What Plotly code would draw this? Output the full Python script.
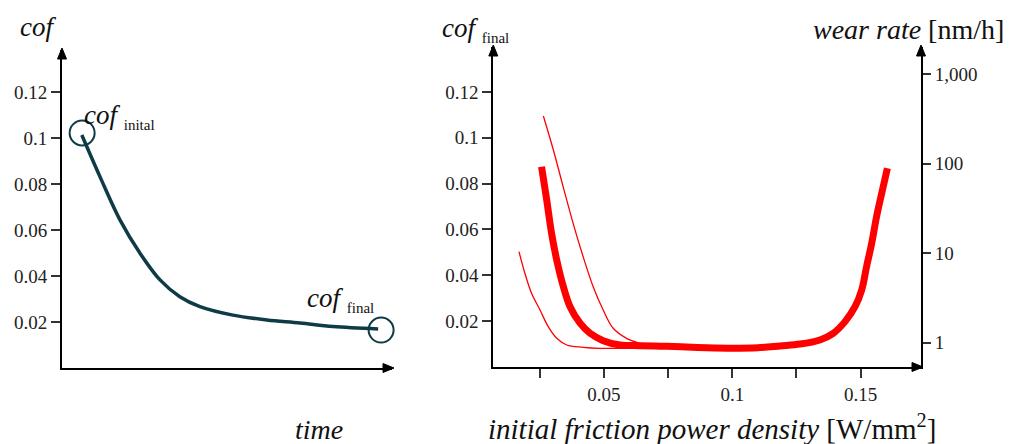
import plotly.graph_objects as go

# ---- left panel: cof over time ----
time_t = [0.06, 0.115, 0.176, 0.236, 0.297, 0.357, 0.418, 0.518, 0.621, 0.721, 0.821, 0.958]
cof_t = [0.1013, 0.0832, 0.0643, 0.05, 0.0383, 0.031, 0.0267, 0.023, 0.0209, 0.0196, 0.018, 0.017]
marked_time = [0.061, 0.967]
marked_cof = [0.1022, 0.0165]

# ---- right panel: cof_final and wear rate vs initial friction power density ----
pd_thick = [0.0257, 0.0277, 0.0296, 0.0316, 0.0342, 0.0368, 0.0407, 0.0446, 0.0497, 0.0562, 0.0640,
            0.0720, 0.0800, 0.0900, 0.1000, 0.1100, 0.1186, 0.1264, 0.1341, 0.1393, 0.1439, 0.1478,
            0.1504, 0.1523, 0.1543, 0.1562, 0.1582, 0.1604]
cof_final = [0.0874, 0.0729, 0.0583, 0.0467, 0.0350, 0.0263, 0.0191, 0.0147, 0.0115, 0.0096, 0.0093,
             0.0091, 0.0088, 0.0084, 0.0082, 0.0084, 0.0092, 0.0100, 0.0118, 0.0147, 0.0198, 0.0263,
             0.0336, 0.0438, 0.0540, 0.0656, 0.0758, 0.0867]

pd_wear_hi = [0.0264, 0.0303, 0.0341, 0.0380, 0.0419, 0.0458, 0.0497, 0.0536, 0.0588, 0.0640, 0.0679, 0.0760]
wear_hi = [340, 141.7, 55.2, 21.5, 9.13, 4.22, 2.32, 1.45, 1.12, 0.985, 0.918, 0.88]
pd_wear_lo = [0.0169, 0.0192, 0.0218, 0.0251, 0.0283, 0.0316, 0.0355, 0.0419, 0.0484, 0.0614, 0.0760]
wear_lo = [10.4, 5.96, 3.56, 2.32, 1.51, 1.12, 0.943, 0.889, 0.866, 0.866, 0.87]

x_ticks = [0.05, 0.1, 0.15]
x_ticktext = ["0.05", "0.1", "0.15"]
x_minor_ticks = [0.025, 0.075, 0.125]
cof_ticks = [0.02, 0.04, 0.06, 0.08, 0.1, 0.12]
cof_ticktext = ["0.02", "0.04", "0.06", "0.08", "0.1", "0.12"]
wear_ticks = [1, 10, 100, 1000]
wear_ticktext = ["1", "10", "100", "1,000"]

FONT = "Liberation Serif"
W, H = 1009, 444
TEAL = "#0f3b47"
RED = "#ff0000"

fig = go.Figure()

fig.add_trace(go.Scatter(x=time_t, y=cof_t, mode="lines", line=dict(color=TEAL, width=3.5, shape="spline"),
                         xaxis="x", yaxis="y", showlegend=False))
fig.add_trace(go.Scatter(x=marked_time, y=marked_cof, mode="markers",
                         marker=dict(symbol="circle-open", size=25, color=TEAL, line=dict(width=2, color=TEAL)),
                         xaxis="x", yaxis="y", showlegend=False, cliponaxis=False))

fig.add_trace(go.Scatter(x=pd_wear_hi, y=wear_hi, mode="lines", line=dict(color=RED, width=1.3, shape="spline"),
                         xaxis="x2", yaxis="y3", showlegend=False))
fig.add_trace(go.Scatter(x=pd_wear_lo, y=wear_lo, mode="lines", line=dict(color=RED, width=1.3, shape="spline"),
                         xaxis="x2", yaxis="y3", showlegend=False))
fig.add_trace(go.Scatter(x=pd_thick, y=cof_final, mode="lines", line=dict(color=RED, width=7, shape="spline"),
                         xaxis="x2", yaxis="y2", showlegend=False))

L_X0, L_X1, L_Y0, L_Y1 = 62, 392, 368, 50
R_X0, R_X1, R_Y0, R_Y1 = 493.3, 921, 367, 47

tickfont = dict(family=FONT, size=19, color="#222")
common = dict(showline=True, linecolor="black", linewidth=2, showgrid=False, zeroline=False, automargin=False)
tk = dict(ticks="outside", ticklen=9, tickwidth=1.5, tickcolor="#333", tickfont=tickfont)

fig.update_layout(
    width=W, height=H, margin=dict(l=0, r=0, t=0, b=0),
    paper_bgcolor="white", plot_bgcolor="white",
    font=dict(family=FONT, color="#111"),
    xaxis=dict(domain=[L_X0 / W, L_X1 / W], range=[0, 1], showticklabels=False, ticks="", **common),
    yaxis=dict(domain=[1 - L_Y0 / H, 1 - L_Y1 / H], range=[0, (L_Y0 - L_Y1) / 2300],
               tickvals=cof_ticks, ticktext=cof_ticktext, **tk, **common),
    xaxis2=dict(domain=[R_X0 / W, R_X1 / W], range=[0.0069, 0.1735], anchor="y2",
                tickvals=x_ticks, ticktext=x_ticktext,
                minor=dict(tickvals=x_minor_ticks, ticks="outside", ticklen=9, tickwidth=1.5, tickcolor="#333"),
                **tk, **common),
    yaxis2=dict(domain=[1 - R_Y0 / H, 1 - R_Y1 / H], range=[0, (R_Y0 - R_Y1) / 2292], anchor="x2",
                tickvals=cof_ticks, ticktext=cof_ticktext, **tk, **common),
    yaxis3=dict(domain=[1 - R_Y0 / H, 1 - R_Y1 / H], type="log", range=[-0.271, 3.301], anchor="x2",
                overlaying="y2", side="right", tickvals=wear_ticks, ticktext=wear_ticktext,
                ticks="outside", ticklen=8, tickwidth=1.5, tickcolor="#333", tickfont=tickfont, **common),
)

# axis arrowheads as filled triangles
def tri(tx, ty, direction):
    s, w = 11, 4.5
    if direction == "up":
        pts = [(tx, ty), (tx - w, ty + s), (tx + w, ty + s)]
    else:
        pts = [(tx, ty), (tx - s, ty - w), (tx - s, ty + w)]
    path = "M " + " L ".join(f"{x / W},{1 - y / H}" for x, y in pts) + " Z"
    fig.add_shape(type="path", path=path, xref="paper", yref="paper",
                  fillcolor="black", line=dict(color="black", width=1))

tri(L_X0, L_Y1 - 2, "up")
tri(L_X1 + 2, L_Y0, "right")
tri(R_X0, R_Y1 - 2, "up")
tri(R_X1, R_Y1 - 2, "up")
tri(R_X1 + 2, R_Y0, "right")

def label(text, x, y, size, xanchor="center"):
    fig.add_annotation(x=x / W, y=1 - y / H, xref="paper", yref="paper", text=text, showarrow=False,
                       xanchor=xanchor, yanchor="middle", font=dict(family=FONT, size=size, color="#111"))

SUB = "<span style='font-size:15px'>{}</span>"
label("<i>cof</i>", 38, 27, 27)
label("<i>time</i>", 319, 429, 28)
label("<i>cof</i> <sub>" + SUB.format("inital") + "</sub>", 82, 117, 27, xanchor="left")
label("<i>cof</i> <sub>" + SUB.format("final") + "</sub>", 305, 299, 27, xanchor="left")
label("<i>cof</i> <sub>" + SUB.format("final") + "</sub>", 440, 30, 27, xanchor="left")
label("<i>wear rate</i> [nm/h]", 1006, 30, 28, xanchor="right")
label("<i>initial friction power density</i> [W/mm<sup>2</sup>]", 712, 427, 29)

fig.write_html("out.html", config={"displayModeBar": False},
               post_script="document.body.style.margin='0';document.body.style.overflow='hidden';")
